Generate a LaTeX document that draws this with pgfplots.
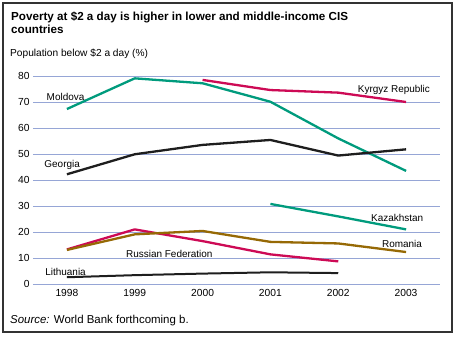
\documentclass[border=0pt]{standalone}
\usepackage{fontspec}
\setmainfont{Liberation Sans}
\usepackage{pgfplots}
\pgfplotsset{compat=1.18}
\definecolor{gridblue}{RGB}{150,166,214}
\definecolor{teal2}{RGB}{0,155,125}
\definecolor{crim}{RGB}{205,10,85}
\definecolor{brownish}{RGB}{150,105,5}
\definecolor{blk}{RGB}{30,30,30}
\begin{document}
\begin{tikzpicture}
\useasboundingbox (0,0) rectangle (458bp,-337bp);
\draw[line width=1.3bp, black!80] (3bp,-3bp) rectangle (452bp,-332bp);
\node[anchor=base west, font=\fontsize{11.7}{13}\selectfont\bfseries, inner sep=0pt] at (11bp,-20.7bp) {Poverty at \$2 a day is higher in lower and middle-income CIS};
\node[anchor=base west, font=\fontsize{11.7}{13}\selectfont\bfseries, inner sep=0pt] at (11bp,-33.3bp) {countries};
\node[anchor=base west, font=\fontsize{10.2}{12}\selectfont, inner sep=0pt] at (10bp,-56.7bp) {Population below \$2 a day (\%)};
\node[anchor=base west, font=\fontsize{11.5}{13}\selectfont, inner sep=0pt] at (10bp,-323.3bp) {\textit{Source:} World Bank forthcoming b.};
\begin{axis}[
  at={(33bp,-284bp)}, anchor=south west,
  scale only axis, width=407bp, height=208bp,
  xmin=1997.5, xmax=2003.5, ymin=0, ymax=80,
  axis line style={draw=none},
  ytick={0,10,...,80}, xtick={1998,1999,...,2003},
  major tick length=0pt,
  ymajorgrids, grid style={color=gridblue, line width=0.8bp},
  /pgf/number format/assume math mode=true,
  /pgf/number format/1000 sep={},
  tick label style={font=\fontsize{10.3}{12}\selectfont},
  xticklabel style={yshift=-1.5bp},
  clip=false,
  every axis plot/.append style={line width=2.3bp, line join=round},
  label/.style={font=\fontsize{9.5}{11}\selectfont, anchor=base, inner sep=0pt},
]
% Moldova
\addplot[teal2] coordinates {(1998,67.3) (1999,79.1) (2000,77.2) (2001,70.1) (2002,56.0) (2003,43.5)};
% Kyrgyz Republic
\addplot[crim] coordinates {(2000,78.5) (2001,74.6) (2002,73.6) (2003,70.0)};
% Georgia
\addplot[blk] coordinates {(1998,42.2) (1999,49.9) (2000,53.5) (2001,55.4) (2002,49.4) (2003,51.8)};
% Kazakhstan
\addplot[teal2] coordinates {(2001,30.8) (2002,26.0) (2003,21.0)};
% Russian Federation
\addplot[crim] coordinates {(1998,13.3) (1999,21.0) (2000,16.5) (2001,11.4) (2002,8.7)};
% Romania
\addplot[brownish] coordinates {(1998,13.1) (1999,19.1) (2000,20.4) (2001,16.2) (2002,15.6) (2003,12.3)};
% Lithuania
\addplot[blk, line width=2bp] coordinates {(1998,2.6) (1999,3.4) (2000,4.0) (2001,4.5) (2002,4.2)};
\node[label] at (axis cs:1997.98,72.0) {Moldova};
\node[label] at (axis cs:1997.93,45.8) {Georgia};
\node[label] at (axis cs:2002.82,74.6) {Kyrgyz Republic};
\node[label] at (axis cs:2002.87,25.4) {Kazakhstan};
\node[label] at (axis cs:2002.94,15.4) {Romania};
\node[label] at (axis cs:1999.51,11.7) {Russian Federation};
\node[label] at (axis cs:1997.98,4.5) {Lithuania};
\end{axis}
\end{tikzpicture}
\end{document}
